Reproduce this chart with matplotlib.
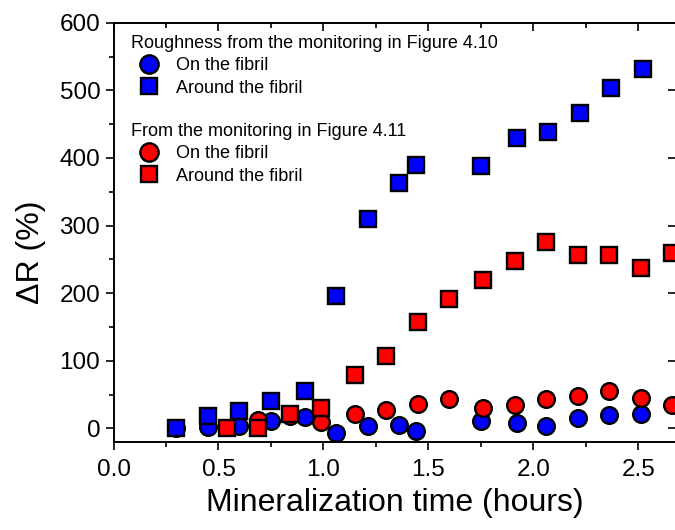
import matplotlib
matplotlib.use("Agg")
import matplotlib.pyplot as plt
from matplotlib.ticker import MultipleLocator

plt.rcParams['font.family'] = ['Liberation Sans', 'DejaVu Sans']

# Roughness from the monitoring in Figure 4.10 (blue)
blue_on_t = [0.30, 0.45, 0.60, 0.75, 0.91, 1.06, 1.21, 1.36, 1.44, 1.75, 1.92, 2.06, 2.21, 2.36, 2.51]
blue_on_r = [0, 2, 4, 11, 17, -7, 3, 5, -3, 11, 8, 3, 15, 20, 22]
blue_around_t = [0.30, 0.45, 0.60, 0.75, 0.91, 1.06, 1.21, 1.36, 1.44, 1.75, 1.92, 2.07, 2.22, 2.37, 2.52]
blue_around_r = [0, 18, 26, 41, 55, 196, 310, 363, 390, 388, 429, 438, 466, 503, 531]

# From the monitoring in Figure 4.11 (red)
red_on_t = [0.69, 0.84, 0.99, 1.15, 1.30, 1.45, 1.60, 1.76, 1.91, 2.06, 2.21, 2.36, 2.51, 2.66]
red_on_r = [12, 18, 10, 21, 28, 36, 43, 30, 35, 43, 48, 56, 45, 35]
red_around_t = [0.54, 0.69, 0.84, 0.99, 1.15, 1.30, 1.45, 1.60, 1.76, 1.91, 2.06, 2.21, 2.36, 2.51, 2.66]
red_around_r = [0, 0, 21, 31, 79, 107, 157, 192, 220, 248, 276, 256, 256, 237, 259]


def main():
    fig = plt.figure(figsize=(6.75, 5.3), dpi=100)
    ax = fig.add_axes([113.5 / 675, 88 / 530, 562.5 / 675, 419.3 / 530])

    mk = dict(linestyle='none', markeredgecolor='black', markeredgewidth=1.7)
    c_blue, = ax.plot(blue_on_t, blue_on_r, 'o', color='#0000ff', ms=12, **mk)
    c_red, = ax.plot(red_on_t, red_on_r, 'o', color='#ff0000', ms=12, **mk)
    s_blue, = ax.plot(blue_around_t, blue_around_r, 's', color='#0000ff', ms=11, **mk)
    s_red, = ax.plot(red_around_t, red_around_r, 's', color='#ff0000', ms=11, **mk)

    ax.set_xlim(0, 2.679)
    ax.set_ylim(-20, 600)
    ax.xaxis.set_major_locator(MultipleLocator(0.5))
    ax.xaxis.set_minor_locator(MultipleLocator(0.25))
    ax.yaxis.set_major_locator(MultipleLocator(100))
    ax.yaxis.set_minor_locator(MultipleLocator(50))
    ax.xaxis.set_major_formatter(plt.FuncFormatter(lambda v, p: f"{v:.1f}"))

    ax.tick_params(which='both', top=True, right=True, labelsize=17.5, width=1.2)
    ax.tick_params(which='major', length=6)
    ax.tick_params(which='minor', length=3.5)
    ax.tick_params(axis='x', which='major', pad=6)
    ax.tick_params(axis='y', which='minor', right=False)
    # top and right ticks point inward
    for t in ax.xaxis.get_major_ticks() + ax.xaxis.get_minor_ticks():
        t.tick2line.set_marker(3)
    for t in ax.yaxis.get_major_ticks():
        t.tick2line.set_marker(0)
    for sp in ax.spines.values():
        sp.set_linewidth(1.4)

    ax.set_xlabel("Mineralization time (hours)", fontsize=23, labelpad=5)
    ax.set_ylabel("\u0394R (%)", fontsize=23)
    ax.yaxis.set_label_coords(-0.12, 0.453)

    leg_kw = dict(fontsize=13, title_fontsize=13, frameon=False, borderpad=0.2,
                  borderaxespad=0, handlelength=2, handletextpad=0.5,
                  labelspacing=0.3, markerscale=1.1, loc='upper left',
                  alignment='left')
    leg1 = ax.legend([c_blue, s_blue], ["On the fibril", "Around the fibril"],
                     title="Roughness from the monitoring in Figure 4.10",
                     bbox_to_anchor=(0.0246, 0.980), **leg_kw)
    ax.add_artist(leg1)
    ax.legend([c_red, s_red], ["On the fibril", "Around the fibril"],
              title="From the monitoring in Figure 4.11",
              bbox_to_anchor=(0.0246, 0.770), **leg_kw)

    fig.savefig("out.png", dpi=100)


if __name__ == "__main__":
    main()
